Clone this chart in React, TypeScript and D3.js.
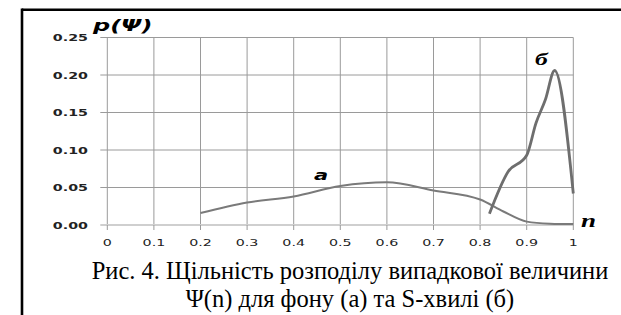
import React from "react";
import * as d3 from "d3";

const xTicks = [0, 0.1, 0.2, 0.3, 0.4, 0.5, 0.6, 0.7, 0.8, 0.9, 1];
const xTickLabels = ["0", "0.1", "0.2", "0.3", "0.4", "0.5", "0.6", "0.7", "0.8", "0.9", "1"];
const yTicks = [0, 0.05, 0.1, 0.15, 0.2, 0.25];
const yTickLabels = ["0.00", "0.05", "0.10", "0.15", "0.20", "0.25"];

const seriesAX = [0.2, 0.3, 0.4, 0.5, 0.6, 0.7, 0.8, 0.85, 0.9, 0.95, 1.0];
const seriesAY = [0.016, 0.030, 0.038, 0.052, 0.057, 0.046, 0.034, 0.018, 0.0045, 0.0018, 0.0012];
const seriesBX = [0.82, 0.86, 0.9, 0.92, 0.94, 0.96, 1.0];
const seriesBY = [0.015, 0.071, 0.093, 0.136, 0.167, 0.206, 0.042];

const captionLines = [
  "Рис. 4. Щільність розподілу випадкової величини",
  "Ψ(n) для фону (а) та S-хвилі (б)",
];

export default function App() {
  const W = 621, H = 315;
  const x = d3.scaleLinear().domain([0, 1]).range([107.3, 573.3]);
  const y = d3.scaleLinear().domain([0, 0.25]).range([225, 37.5]);
  const line = d3
    .line<[number, number]>()
    .x((d) => x(d[0]))
    .y((d) => y(d[1]))
    .curve(d3.curveMonotoneX);
  const a: [number, number][] = seriesAX.map((v, i) => [v, seriesAY[i]]);
  const b: [number, number][] = seriesBX.map((v, i) => [v, seriesBY[i]]);
  const SX = 1.5;
  const stretched = (px: number, py: number, anchor: string, txt: string, style: any, key?: any) => (
    <g key={key} transform={`translate(${px},${py}) scale(${SX},1)`}>
      <text x={0} y={0} textAnchor={anchor} style={style}>{txt}</text>
    </g>
  );
  const tickStyle = { fontFamily: "DejaVu Sans", fontSize: 9.5, fill: "#222" };
  const capStyle = { fontFamily: "Liberation Serif", fontSize: 24.5, fill: "#000" };
  return (
    <div style={{ position: "absolute", left: 0, top: 0 }}>
      <svg width={W} height={H} style={{ display: "block", background: "#fff" }}>
        {/* frame */}
        <line x1={22} x2={621} y1={9.7} y2={9.7} stroke="#000" strokeWidth={2.5} />
        <line x1={22} x2={22} y1={8.5} y2={315} stroke="#000" strokeWidth={2.6} />
        {/* grid */}
        {xTicks.map((t) => (
          <line key={"gx" + t} x1={x(t)} x2={x(t)} y1={y(0.25)} y2={y(0)} stroke="#9a9a9a" strokeWidth={1} />
        ))}
        {yTicks.filter((t) => t > 0).map((t) => (
          <line key={"gy" + t} x1={x(0) - 7} x2={x(1)} y1={y(t)} y2={y(t)} stroke="#9a9a9a" strokeWidth={1} />
        ))}
        {/* x axis */}
        <line x1={x(0) - 7} x2={x(1)} y1={y(0)} y2={y(0)} stroke="#cfcfcf" strokeWidth={2} />
        {xTicks.map((t) => (
          <line key={"tx" + t} x1={x(t)} x2={x(t)} y1={y(0)} y2={y(0) + 5} stroke="#9a9a9a" strokeWidth={1} />
        ))}
        {/* tick labels */}
        {yTicks.map((t, i) => stretched(88, y(t) + 3.5, "end", yTickLabels[i], { ...tickStyle, fontWeight: 600 }, "yl" + i))}
        {xTicks.map((t, i) => stretched(x(t), 246, "middle", xTickLabels[i], tickStyle, "xl" + i))}
        {/* series */}
        <path d={line(a) || ""} fill="none" stroke="#7a7a7a" strokeWidth={2} />
        <path d={line(b) || ""} fill="none" stroke="#6e6e6e" strokeWidth={2.8} />
        {/* labels */}
        {stretched(93, 31, "start", "p(Ψ)", { fontFamily: "DejaVu Sans", fontSize: 16, fontWeight: "bold", fontStyle: "italic", fill: "#000" })}
        {stretched(581, 227, "start", "n", { fontFamily: "Liberation Serif", fontSize: 18, fontWeight: "bold", fontStyle: "italic", fill: "#000" })}
        {stretched(314, 180, "start", "a", { fontFamily: "DejaVu Sans", fontSize: 14, fontWeight: "bold", fontStyle: "italic", fill: "#000" })}
        {stretched(535, 65, "start", "б", { fontFamily: "Liberation Serif", fontSize: 17, fontWeight: "bold", fontStyle: "italic", fill: "#000" })}
        {/* caption */}
        <text x={350} y={279} textAnchor="middle" style={capStyle}>{captionLines[0]}</text>
        <text x={350} y={307} textAnchor="middle" style={capStyle}>{captionLines[1]}</text>
      </svg>
    </div>
  );
}
